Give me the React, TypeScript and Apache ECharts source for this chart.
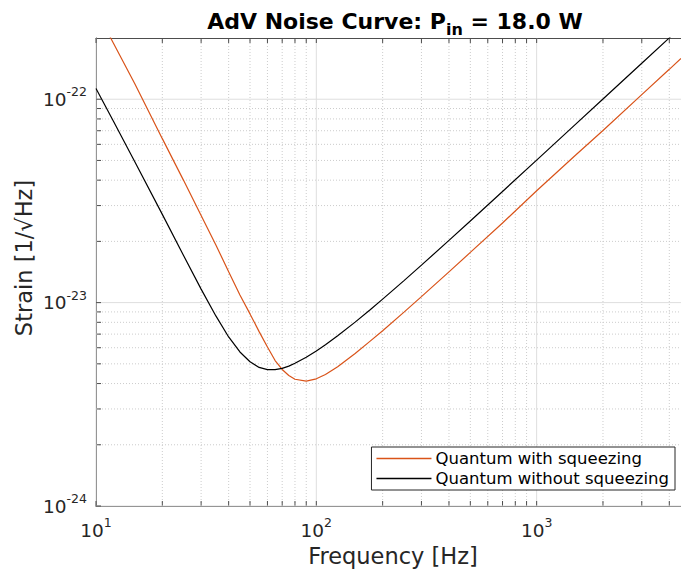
import React, { useEffect, useRef } from "react";
import * as echarts from "echarts";

// Frequencies [Hz]
const freq = [10, 12, 15, 20, 25, 30, 35, 40, 45, 50, 55, 60, 65, 70, 75, 80, 90, 100, 110, 125, 150, 175, 200, 250, 300, 400, 500, 700, 1000, 1500, 2000, 3000, 4000, 4520];
// Quantum noise with squeezing [1/sqrt(Hz)]
const withSqz = [2.74e-22, 1.886e-22, 1.192e-22, 6.4e-23, 3.98e-23, 2.68e-23, 1.92e-23, 1.42e-23, 1.091e-23, 8.8e-24, 7.2e-24, 6.05e-24, 5.19e-24, 4.69e-24, 4.38e-24, 4.2e-24, 4.11e-24, 4.22e-24, 4.43e-24, 4.84e-24, 5.62e-24, 6.45e-24, 7.27e-24, 8.98e-24, 1.07e-23, 1.416e-23, 1.765e-23, 2.463e-23, 3.55e-23, 5.3e-23, 7.02e-23, 1.053e-22, 1.403e-22, 1.586e-22];
// Quantum noise without squeezing [1/sqrt(Hz)]
const withoutSqz = [1.13e-22, 7.8e-23, 4.93e-23, 2.715e-23, 1.7e-23, 1.165e-23, 8.6e-24, 6.78e-24, 5.72e-24, 5.12e-24, 4.8e-24, 4.68e-24, 4.68e-24, 4.75e-24, 4.87e-24, 5.03e-24, 5.39e-24, 5.78e-24, 6.2e-24, 6.87e-24, 8.02e-24, 9.2e-24, 1.04e-23, 1.283e-23, 1.528e-23, 2.023e-23, 2.52e-23, 3.52e-23, 5.02e-23, 7.52e-23, 1.002e-22, 1.503e-22, 2.004e-22, 2.265e-22];

// ECharts rounds tiny numbers to 0, so the y axis works in units of 1e-24
const UNIT_EXP = -24;
const UNIT = 1e-24;

const X_MIN = 10;
const X_MAX = 4520;
const Y_MIN = 1e-24;
const Y_MAX = 2e-22;

const xMajor = [10, 100, 1000];
const xMinor = [20, 30, 40, 50, 60, 70, 80, 90, 200, 300, 400, 500, 600, 700, 800, 900, 2000, 3000, 4000];
const yMajor = [1e-24, 1e-23, 1e-22];
const yMinor = [2e-24, 3e-24, 4e-24, 5e-24, 6e-24, 7e-24, 8e-24, 9e-24, 2e-23, 3e-23, 4e-23, 5e-23, 6e-23, 7e-23, 8e-23, 9e-23];

const FONT = "DejaVu Sans";
const AXIS_COLOR = "#4d4d4d";
const TEXT_COLOR = "#262626";

const u = (v: number) => v / UNIT;

function powLabel(v: number, offset: number): string {
  const l = Math.log10(v);
  const e = Math.round(l);
  if (Math.abs(l - e) > 1e-6) return "";
  return `{b|10}{s|${e + offset}}`;
}

export default function App() {
  const ref = useRef<HTMLDivElement>(null);
  useEffect(() => {
    if (!ref.current) return;
    const chart = echarts.init(ref.current, undefined, { renderer: "svg" });

    const yMinU = u(Y_MIN);
    const yMaxU = u(Y_MAX);
    const gridData: number[][] = [];
    xMinor.forEach((x) => gridData.push([x, yMinU, 0]));
    yMinor.forEach((y) => gridData.push([X_MIN, u(y), 2]));
    xMajor.forEach((x) => gridData.push([x, yMinU, 1]));
    yMajor.forEach((y) => gridData.push([X_MIN, u(y), 3]));

    const labelRich = {
      b: { fontSize: 18.5, fontFamily: FONT, color: TEXT_COLOR },
      s: { fontSize: 12.5, fontFamily: FONT, color: TEXT_COLOR, padding: [0, 0, 15, 0] },
    };

    chart.setOption({
      animation: false,
      backgroundColor: "#ffffff",
      title: {
        text: "{t|AdV Noise Curve: P}{sub|in}{t| = 18.0 W}",
        left: 390,
        textAlign: "center",
        top: 0,
        textStyle: {
          rich: {
            t: { fontSize: 22, fontWeight: "bold", fontFamily: FONT, color: "#000" },
            sub: { fontSize: 16, fontWeight: "bold", fontFamily: FONT, color: "#000", padding: [16, 0, 0, 0] },
          },
        },
      },
      grid: { left: 96, right: 0, top: 38, bottom: 68 },
      legend: {
        orient: "vertical",
        right: 6,
        top: 447,
        data: ["Quantum with squeezing", "Quantum without squeezing"],
        icon: "rect",
        backgroundColor: "#ffffff",
        borderColor: TEXT_COLOR,
        borderWidth: 1,
        padding: [3, 6, 3, 5],
        itemWidth: 55,
        itemHeight: 1.5,
        itemGap: 3,
        textStyle: { fontSize: 16.5, fontFamily: FONT, color: "#000", lineHeight: 17, padding: [0, 0, 0, -1] },
        z: 10,
      },
      xAxis: [
        {
          type: "log",
          logBase: 10,
          min: X_MIN,
          max: X_MAX,
          position: "bottom",
          axisLine: { show: true, lineStyle: { color: AXIS_COLOR, width: 1 } },
          axisTick: { show: false },
          splitLine: { show: false },
          axisLabel: {
            margin: 10,
            formatter: (v: number) => powLabel(v, 0),
            rich: labelRich,
            showMinLabel: true,
            showMaxLabel: false,
          },
        },
        {
          type: "log",
          logBase: 10,
          min: X_MIN,
          max: X_MAX,
          position: "top",
          axisLine: { show: true, lineStyle: { color: AXIS_COLOR, width: 1 } },
          axisTick: { show: false },
          splitLine: { show: false },
          axisLabel: { show: false },
        },
      ],
      yAxis: {
        type: "log",
        logBase: 10,
        min: yMinU,
        max: yMaxU,
        axisLine: { show: true, lineStyle: { color: AXIS_COLOR, width: 1 } },
        axisTick: { show: false },
        splitLine: { show: false },
        axisLabel: {
          margin: 9,
          formatter: (v: number) => powLabel(v, UNIT_EXP),
          rich: labelRich,
          showMaxLabel: false,
        },
      },
      graphic: [
        {
          type: "text",
          x: 393,
          y: 556,
          style: {
            text: "Frequency [Hz]",
            fontSize: 22.5,
            fontFamily: FONT,
            fill: TEXT_COLOR,
            align: "center",
            verticalAlign: "middle",
          },
        },
        {
          type: "text",
          x: 24,
          y: 258,
          rotation: Math.PI / 2,
          style: {
            text: "Strain [1/√Hz]",
            fontSize: 22.5,
            fontFamily: FONT,
            fill: TEXT_COLOR,
            align: "center",
            verticalAlign: "middle",
          },
        },
      ],
      series: [
        {
          type: "custom",
          name: "grid",
          silent: true,
          z: 1,
          xAxisIndex: 0,
          yAxisIndex: 0,
          data: gridData,
          encode: { x: 0, y: 1 },
          clip: false,
          renderItem: (params: any, api: any) => {
            const kind = api.value(2);
            const major = kind === 1 || kind === 3;
            const gridStyle = major
              ? { stroke: "#dedede", lineWidth: 1 }
              : { stroke: "#cccccc", lineWidth: 1, lineDash: [1, 2] };
            const tickStyle = { stroke: AXIS_COLOR, lineWidth: 1 };
            if (kind < 2) {
              const x = api.value(0);
              const p0 = api.coord([x, yMinU]);
              const p1 = api.coord([x, yMaxU]);
              return {
                type: "group",
                children: [
                  { type: "line", shape: { x1: p0[0], y1: p0[1], x2: p1[0], y2: p1[1] }, style: gridStyle },
                  { type: "line", shape: { x1: p0[0], y1: p0[1], x2: p0[0], y2: p0[1] - 5 }, style: tickStyle },
                  { type: "line", shape: { x1: p1[0], y1: p1[1], x2: p1[0], y2: p1[1] + 5 }, style: tickStyle },
                ],
              };
            }
            const y = api.value(1);
            const q0 = api.coord([X_MIN, y]);
            const q1 = api.coord([X_MAX, y]);
            return {
              type: "group",
              children: [
                { type: "line", shape: { x1: q0[0], y1: q0[1], x2: q1[0], y2: q1[1] }, style: gridStyle },
                { type: "line", shape: { x1: q0[0], y1: q0[1], x2: q0[0] + 5, y2: q0[1] }, style: tickStyle },
              ],
            };
          },
        },
        {
          type: "line",
          name: "Quantum with squeezing",
          z: 3,
          symbol: "none",
          data: freq.map((f, i) => [f, u(withSqz[i])]),
          lineStyle: { color: "#D95319", width: 1.2 },
          itemStyle: { color: "#D95319" },
        },
        {
          type: "line",
          name: "Quantum without squeezing",
          z: 3,
          symbol: "none",
          data: freq.map((f, i) => [f, u(withoutSqz[i])]),
          lineStyle: { color: "#000000", width: 1.2 },
          itemStyle: { color: "#000000" },
        },
      ],
    });
    return () => chart.dispose();
  }, []);
  return <div ref={ref} style={{ width: 681, height: 574, position: "fixed", left: 0, top: 0 }} />;
}
